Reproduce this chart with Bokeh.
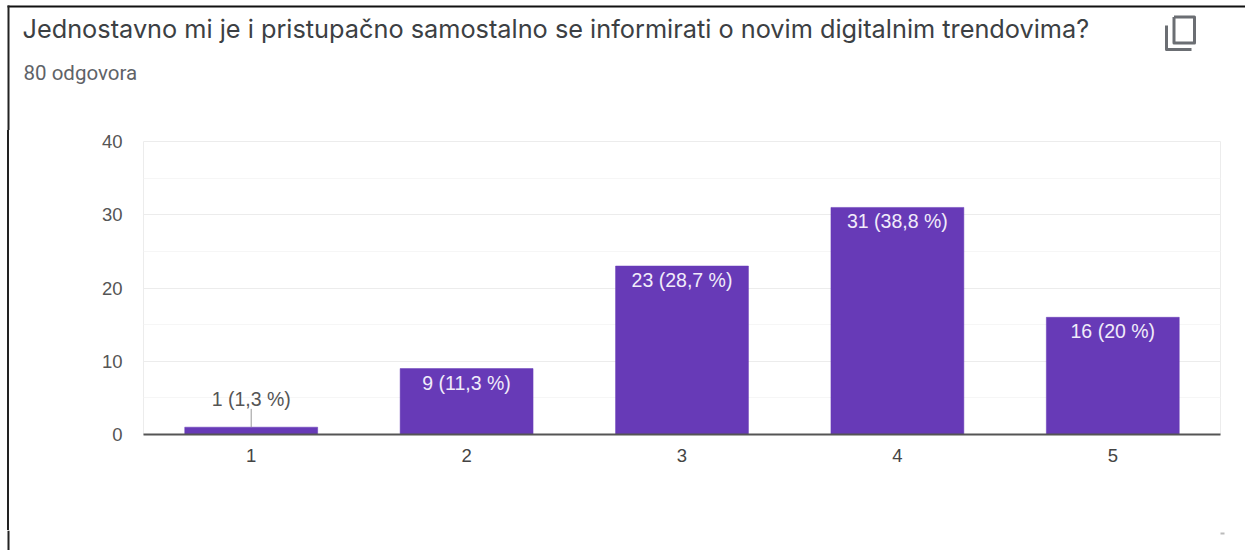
from bokeh.plotting import figure
from bokeh.embed import file_html
from bokeh.resources import INLINE
from bokeh.layouts import column, row
from bokeh.models import ColumnDataSource, FixedTicker, Range1d, Spacer
from bokeh.core.properties import value

title_text = "Jednostavno mi je i pristupačno samostalno se informirati o novim digitalnim trendovima?"
subtitle_text = "80 odgovora"
categories = ["1", "2", "3", "4", "5"]
counts = [1, 9, 23, 31, 16]
labels = ["1 (1,3 %)", "9 (11,3 %)", "23 (28,7 %)", "31 (38,8 %)", "16 (20 %)"]
y_major = [0, 10, 20, 30, 40]
y_minor = [5, 15, 25, 35]

HEAD_H, MID_H, FOOT_H = 130, 400, 20
EDGE_W = 9

def blank(w, h, x0, x1, y0, y1):
    f = figure(width=w, height=h, x_range=Range1d(x0, x1), y_range=Range1d(y0, y1),
               output_backend="svg", toolbar_location=None, min_border=0, margin=0,
               outline_line_color=None, border_fill_color="#ffffff", background_fill_color="#ffffff")
    f.axis.visible = False
    f.grid.visible = False
    return f

# header: question, answer count, copy icon (page pixel coordinates)
head = blank(1245, HEAD_H, 0, 1245, HEAD_H, 0)
head.quad(left=7, right=1245, top=5, bottom=7, fill_color="#111111", line_color=None)
head.quad(left=7, right=9, top=5, bottom=HEAD_H, fill_color="#222222", line_color=None)
head.text(x=[22], y=[28], text=[title_text], text_font=value("Inter"), text_font_size="25.3px",
          text_color="#3c4043", text_baseline="middle", text_align="left")
head.text(x=[23], y=[72], text=[subtitle_text], text_font=value("Roboto"), text_font_size="20.5px",
          text_color="#5f6368", text_baseline="middle", text_align="left")
icon = "#6b6e73"
head.line(x=[1173.5, 1194, 1194, 1173.5, 1173.5], y=[16.5, 16.5, 42.5, 42.5, 16.5], line_color=icon,
          line_width=3, line_join="round")
head.line(x=[1166, 1166, 1191], y=[25, 49, 49], line_color=icon, line_width=3, line_join="round")

# left edge of the screenshot beside the chart
edge_gap = Spacer(width=7, height=MID_H, margin=0)
edge_line = Spacer(width=2, height=MID_H, margin=0, styles={"background-color": "#222222"})

# chart
p = figure(x_range=categories, y_range=Range1d(0, 40), width=1245 - EDGE_W, height=MID_H,
           output_backend="svg", toolbar_location=None,
           frame_width=1077, frame_height=293,
           min_border_left=143 - EDGE_W, min_border_right=25, min_border_top=141 - HEAD_H,
           min_border_bottom=MID_H + HEAD_H - 434,
           margin=0, outline_line_color="#ececec", background_fill_color="#ffffff",
           border_fill_color="#ffffff")
p.x_range.range_padding = 0
p.xgrid.grid_line_color = None
p.ygrid.ticker = FixedTicker(ticks=y_major, minor_ticks=y_minor)
p.ygrid.grid_line_color = "#ececec"
p.ygrid.grid_line_width = 1
p.ygrid.minor_grid_line_color = "#f6f6f6"

p.yaxis.ticker = FixedTicker(ticks=y_major)
p.yaxis.axis_line_color = None
p.yaxis.major_tick_line_color = None
p.yaxis.minor_tick_line_color = None
p.yaxis.major_label_text_font = "Liberation Sans"
p.yaxis.major_label_text_font_size = "18.5px"
p.yaxis.major_label_text_color = "#555555"
p.yaxis.major_label_standoff = 15

p.xaxis.axis_line_color = "#555555"
p.xaxis.axis_line_width = 2
p.xaxis.major_tick_line_color = None
p.xaxis.minor_tick_line_color = None
p.xaxis.major_label_text_font = "Liberation Sans"
p.xaxis.major_label_text_font_size = "18.5px"
p.xaxis.major_label_text_color = "#444444"
p.xaxis.major_label_standoff = 8

src = ColumnDataSource(dict(
    cat=categories, count=counts,
    inside=[lab if c > 5 else "" for lab, c in zip(labels, counts)],
    outside=[lab if c <= 5 else "" for lab, c in zip(labels, counts)],
))
p.vbar(x="cat", top="count", width=0.617, bottom=0, source=src, fill_color="#673ab7",
       line_color="#673ab7", line_width=0.5)
p.text(x="cat", y="count", text="inside", source=src, text_align="center", text_baseline="middle",
       y_offset=14, text_color="#f1ecfa", text_font=value("Liberation Sans"), text_font_size="19.5px")
p.text(x="cat", y="count", text="outside", source=src, text_align="center", text_baseline="middle",
       y_offset=-28, text_color="#555555", text_font=value("Liberation Sans"), text_font_size="19.5px")
lead = [(c, n) for c, n in zip(categories, counts) if n <= 5]
p.segment(x0=[c for c, n in lead], y0=[n for c, n in lead],
          x1=[c for c, n in lead], y1=[n + 2.5 for c, n in lead], line_color="#999999", line_width=1)

# footer: rest of the left edge and the small speck
foot = blank(1245, FOOT_H, 0, 1245, FOOT_H, 0)
foot.quad(left=7, right=9, top=0, bottom=FOOT_H, fill_color="#222222", line_color=None)
foot.quad(left=1220, right=1224, top=2, bottom=4, fill_color="#bbbbbb", line_color=None)

page = column(head, row(edge_gap, edge_line, p, spacing=0, margin=0), foot, spacing=0, margin=0)
open("out.html", "w").write(file_html(page, INLINE))
